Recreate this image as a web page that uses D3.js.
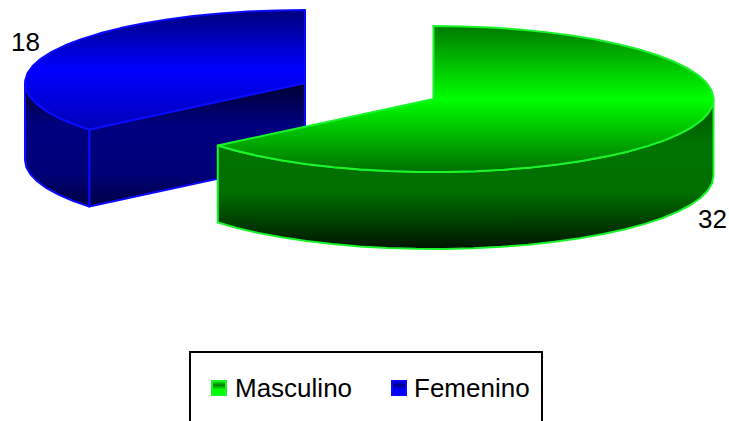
<!DOCTYPE html>
<html>
<head>
<meta charset="utf-8">
<style>
  html, body { margin: 0; padding: 0; background: #fff; }
  svg { display: block; }
  text { font-family: "Liberation Sans", Arial, sans-serif; fill: #000; }
</style>
<script src="https://cdn.jsdelivr.net/npm/d3@7/dist/d3.min.js"></script>
</head>
<body>
<svg id="chart" width="729" height="421"></svg>
<script>
const categories = ["Masculino", "Femenino"];
const values = [32, 18];

const RX = 280, RY = 73, DEPTH = 77;
const STEP = Math.PI / 30;

// Per-slice drawing settings, in the same order as the categories.
const sliceStyles = [
  { cx: 433.5, cy: 99, line: "#19f52a", bright: "#00ff00", topDark: "#007a00", botDark: "#007000",
    wall: [[0, "#005000"], [0.3, "#007400"], [0.62, "#006f00"], [1, "#001400"]],
    labelX: 698, labelY: 228, legendX: 211, textX: 235 },
  { cx: 305, cy: 83, line: "#0a0aff", bright: "#0000ff", topDark: "#00007a", botDark: "#0000b8",
    wall: [[0, "#000030"], [0.28, "#000080"], [0.6, "#000078"], [1, "#000018"]],
    labelX: 11, labelY: 51, legendX: 391, textX: 414 }
];

const svg = d3.select("#chart");
const defs = svg.append("defs");

const slices = d3.pie().sort(null).value(d => d)(values);

// Oblique projection of a pie angle (clockwise from 12 o'clock) onto the page.
const sx = d3.scaleLinear().domain([-1, 1]);
const sy = d3.scaleLinear().domain([-1, 1]);
function project(style, angle, drop) {
  sx.range([style.cx - RX, style.cx + RX]);
  sy.range([style.cy + RY + drop, style.cy - RY + drop]);
  return [sx(Math.sin(angle)), sy(Math.cos(angle))];
}
function arcPoints(style, a0, a1, drop) {
  const n = Math.max(1, Math.ceil((a1 - a0) / STEP));
  return d3.range(n + 1).map(i => project(style, a0 + (a1 - a0) * i / n, drop));
}
const line = d3.line();

function verticalGradient(id, stops, y1, y2) {
  const g = defs.append("linearGradient").attr("id", id).attr("x1", 0).attr("x2", 0);
  if (y1 === undefined) {
    g.attr("y1", 0).attr("y2", 1);
  } else {
    g.attr("gradientUnits", "userSpaceOnUse").attr("y1", y1).attr("y2", y2);
  }
  stops.forEach(s => g.append("stop").attr("offset", s[0]).attr("stop-color", s[1]));
  return `url(#${id})`;
}

// The later slice sits behind the earlier one, so it is drawn first.
slices.slice().reverse().forEach(slice => {
  const st = sliceStyles[slice.index];
  const g = svg.append("g")
    .attr("stroke", st.line).attr("stroke-width", 2).attr("stroke-linejoin", "round");
  const a0 = slice.startAngle, a1 = slice.endAngle;
  const centre = [st.cx, st.cy];
  const wallFill = verticalGradient(`wall-${slice.index}`, st.wall, st.cy, st.cy + RY + DEPTH);
  const topFill = verticalGradient(`top-${slice.index}`,
    [[0, st.topDark], [0.5, st.bright], [1, st.botDark]]);

  // Radial cut face: visible when the slice's opening radius lies on the left, front side.
  if (Math.sin(a0) < 0 && Math.cos(a0) < 0) {
    g.append("path")
      .attr("d", line([centre, project(st, a0, 0), project(st, a0, DEPTH), [st.cx, st.cy + DEPTH]]) + "Z")
      .attr("fill", wallFill);
  }

  // Outer wall: the part of the rim on the front half of the ellipse.
  const wa0 = Math.max(a0, Math.PI / 2), wa1 = Math.min(a1, 3 * Math.PI / 2);
  if (wa1 > wa0) {
    const upper = arcPoints(st, wa0, wa1, 0);
    const lower = arcPoints(st, wa0, wa1, DEPTH).reverse();
    g.append("path")
      .attr("d", line(upper.concat(lower)) + "Z")
      .attr("fill", wallFill);
  }

  // Upper face of the slice.
  g.append("path")
    .attr("d", line([centre].concat(arcPoints(st, a0, a1, 0))) + "Z")
    .attr("fill", topFill);

  // Value label.
  svg.append("text")
    .attr("x", st.labelX).attr("y", st.labelY)
    .attr("font-size", 26)
    .text(values[slice.index]);
});

// Legend frame runs off the bottom of the page.
svg.append("rect")
  .attr("x", 190).attr("y", 352).attr("width", 352).attr("height", 100)
  .attr("fill", "#fff").attr("stroke", "#000").attr("stroke-width", 2);

categories.forEach((name, i) => {
  const st = sliceStyles[i];
  const fill = verticalGradient(`key-${i}`,
    [[0, st.bright], [0.3, st.topDark], [0.6, st.bright], [1, st.bright]]);
  svg.append("rect")
    .attr("x", st.legendX + 1).attr("y", 381).attr("width", 14).attr("height", 14)
    .attr("fill", fill).attr("stroke", st.line).attr("stroke-width", 2);
  svg.append("text")
    .attr("x", st.textX).attr("y", 397)
    .attr("font-size", 26)
    .text(name);
});
</script>
</body>
</html>
